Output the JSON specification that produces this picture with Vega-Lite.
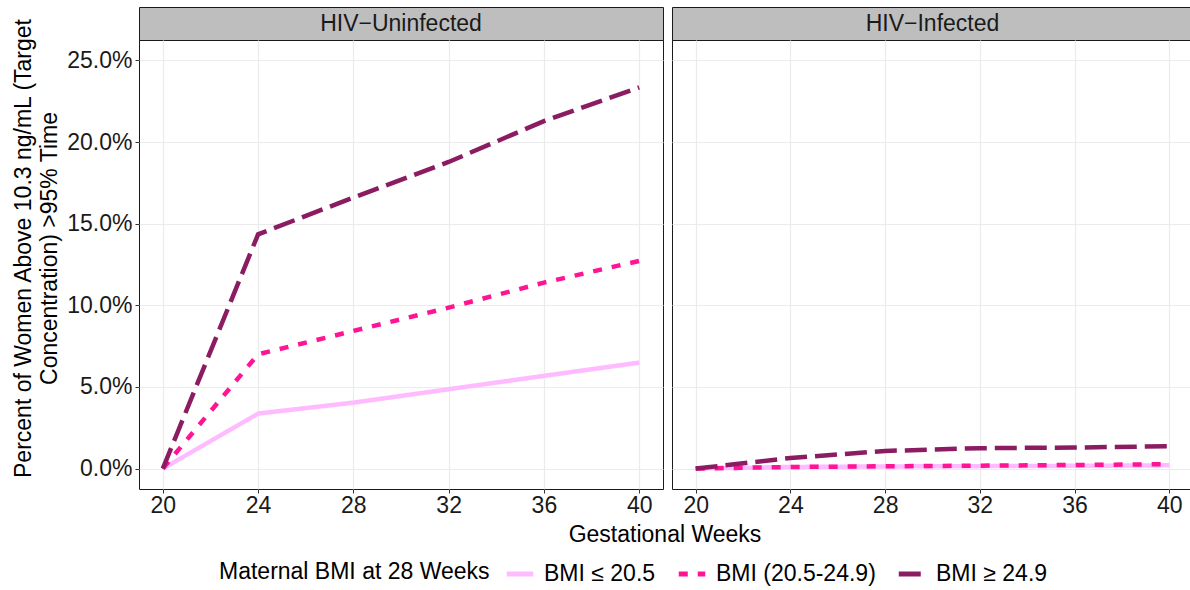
{
  "$schema": "https://vega.github.io/schema/vega-lite/v6.json",
  "padding": {"left": 12, "top": 6, "right": 0, "bottom": 0},
  "background": "white",
  "datasets": {
    "d": [
      {"panel": "HIV−Uninfected", "bmi": "BMI ≤ 20.5", "week": 20, "pct": 0},
      {"panel": "HIV−Uninfected", "bmi": "BMI ≤ 20.5", "week": 24, "pct": 0.0337},
      {"panel": "HIV−Uninfected", "bmi": "BMI ≤ 20.5", "week": 28, "pct": 0.0404},
      {"panel": "HIV−Uninfected", "bmi": "BMI ≤ 20.5", "week": 32, "pct": 0.0486},
      {"panel": "HIV−Uninfected", "bmi": "BMI ≤ 20.5", "week": 36, "pct": 0.0568},
      {"panel": "HIV−Uninfected", "bmi": "BMI ≤ 20.5", "week": 40, "pct": 0.0649},
      {"panel": "HIV−Uninfected", "bmi": "BMI (20.5-24.9)", "week": 20, "pct": 0},
      {"panel": "HIV−Uninfected", "bmi": "BMI (20.5-24.9)", "week": 24, "pct": 0.0700},
      {"panel": "HIV−Uninfected", "bmi": "BMI (20.5-24.9)", "week": 28, "pct": 0.0843},
      {"panel": "HIV−Uninfected", "bmi": "BMI (20.5-24.9)", "week": 32, "pct": 0.0986},
      {"panel": "HIV−Uninfected", "bmi": "BMI (20.5-24.9)", "week": 36, "pct": 0.1139},
      {"panel": "HIV−Uninfected", "bmi": "BMI (20.5-24.9)", "week": 40, "pct": 0.1272},
      {"panel": "HIV−Uninfected", "bmi": "BMI ≥ 24.9", "week": 20, "pct": 0},
      {"panel": "HIV−Uninfected", "bmi": "BMI ≥ 24.9", "week": 24, "pct": 0.1435},
      {"panel": "HIV−Uninfected", "bmi": "BMI ≥ 24.9", "week": 28, "pct": 0.1660},
      {"panel": "HIV−Uninfected", "bmi": "BMI ≥ 24.9", "week": 32, "pct": 0.1878},
      {"panel": "HIV−Uninfected", "bmi": "BMI ≥ 24.9", "week": 36, "pct": 0.2128},
      {"panel": "HIV−Uninfected", "bmi": "BMI ≥ 24.9", "week": 40, "pct": 0.2335},
      {"panel": "HIV−Infected", "bmi": "BMI ≤ 20.5", "week": 20, "pct": 0},
      {"panel": "HIV−Infected", "bmi": "BMI ≤ 20.5", "week": 24, "pct": 0.0010},
      {"panel": "HIV−Infected", "bmi": "BMI ≤ 20.5", "week": 28, "pct": 0.0013},
      {"panel": "HIV−Infected", "bmi": "BMI ≤ 20.5", "week": 32, "pct": 0.0015},
      {"panel": "HIV−Infected", "bmi": "BMI ≤ 20.5", "week": 36, "pct": 0.0017},
      {"panel": "HIV−Infected", "bmi": "BMI ≤ 20.5", "week": 40, "pct": 0.0020},
      {"panel": "HIV−Infected", "bmi": "BMI (20.5-24.9)", "week": 20, "pct": 0},
      {"panel": "HIV−Infected", "bmi": "BMI (20.5-24.9)", "week": 24, "pct": 0.0010},
      {"panel": "HIV−Infected", "bmi": "BMI (20.5-24.9)", "week": 28, "pct": 0.0014},
      {"panel": "HIV−Infected", "bmi": "BMI (20.5-24.9)", "week": 32, "pct": 0.0018},
      {"panel": "HIV−Infected", "bmi": "BMI (20.5-24.9)", "week": 36, "pct": 0.0022},
      {"panel": "HIV−Infected", "bmi": "BMI (20.5-24.9)", "week": 40, "pct": 0.0027},
      {"panel": "HIV−Infected", "bmi": "BMI ≥ 24.9", "week": 20, "pct": 0},
      {"panel": "HIV−Infected", "bmi": "BMI ≥ 24.9", "week": 24, "pct": 0.0065},
      {"panel": "HIV−Infected", "bmi": "BMI ≥ 24.9", "week": 28, "pct": 0.0108},
      {"panel": "HIV−Infected", "bmi": "BMI ≥ 24.9", "week": 32, "pct": 0.0125},
      {"panel": "HIV−Infected", "bmi": "BMI ≥ 24.9", "week": 36, "pct": 0.0129},
      {"panel": "HIV−Infected", "bmi": "BMI ≥ 24.9", "week": 40, "pct": 0.0137}
    ]
  },
  "config": {
    "font": "Liberation Sans",
    "view": {"stroke": "#1a1a1a", "strokeWidth": 1},
    "axis": {
      "gridColor": "#EBEBEB",
      "gridWidth": 1.2,
      "tickColor": "#333333",
      "tickSize": 4,
      "labelColor": "#1a1a1a",
      "labelFontSize": 23,
      "labelPadding": 1,
      "titleFontSize": 23,
      "titleFontWeight": "normal",
      "titleColor": "#000000",
      "domain": false
    },
    "legend": {
      "orient": "none",
      "legendX": 80,
      "legendY": 551,
      "direction": "horizontal",
      "titleOrient": "left",
      "titleBaseline": "middle",
      "titleFontSize": 23,
      "titleFontWeight": "normal",
      "titleColor": "#000000",
      "titlePadding": 14,
      "titleLimit": 500,
      "labelLimit": 400,
      "labelFontSize": 23,
      "labelColor": "#000000",
      "labelOffset": 8,
      "columnPadding": 12,
      "symbolType": "stroke",
      "symbolStrokeWidth": 5,
      "symbolSize": 700
    }
  },
  "spacing": 5,
  "vconcat": [
    {
      "spacing": 7,
      "hconcat": [
        {
          "spacing": 0,
          "bounds": "flush",
          "vconcat": [
            {
              "width": 524,
              "height": 33,
              "data": {"values": [{"panel": "HIV−Uninfected"}]},
              "view": {"fill": "#BEBEBE", "stroke": "#1a1a1a"},
              "mark": {"type": "text", "fontSize": 23, "color": "#1a1a1a"},
              "encoding": {"text": {"field": "panel", "type": "nominal"}}
            },
            {
              "width": 524,
              "height": 449,
              "data": {"name": "d"},
              "transform": [{"filter": "datum.panel == 'HIV−Uninfected'"}],
              "mark": {"type": "line", "strokeWidth": 4.5, "strokeCap": "butt"},
              "encoding": {
                "x": {
                  "field": "week", "type": "quantitative",
                  "scale": {"domain": [19, 41], "nice": false, "zero": false},
                  "axis": {"values": [20, 24, 28, 32, 36, 40], "title": null}
                },
                "y": {
                  "field": "pct", "type": "quantitative",
                  "scale": {"domain": [-0.0125, 0.2625], "nice": false, "zero": false},
                  "axis": {
                    "values": [0, 0.05, 0.1, 0.15, 0.2, 0.25],
                    "format": ".1%",
                    "labelPadding": 3,
                    "title": ["Percent of Women Above 10.3 ng/mL (Target", "Concentration) >95% Time"],
                    "titlePadding": 5,
                    "titleLineHeight": 26,
                    "titleY": 208
                  }
                },
                "color": {
                  "field": "bmi", "type": "nominal", "title": "Maternal BMI at 28 Weeks",
                  "scale": {"domain": ["BMI ≤ 20.5", "BMI (20.5-24.9)", "BMI ≥ 24.9"], "range": ["#FFBBFF", "#FF1493", "#8B1C62"]}
                },
                "strokeDash": {
                  "field": "bmi", "type": "nominal", "title": "Maternal BMI at 28 Weeks",
                  "scale": {"domain": ["BMI ≤ 20.5", "BMI (20.5-24.9)", "BMI ≥ 24.9"], "range": [[1, 0], [9, 10], [22, 8]]}
                }
              }
            }
          ]
        },
        {
          "spacing": 0,
          "bounds": "flush",
          "vconcat": [
            {
              "width": 521,
              "height": 33,
              "data": {"values": [{"panel": "HIV−Infected"}]},
              "view": {"fill": "#BEBEBE", "stroke": "#1a1a1a"},
              "mark": {"type": "text", "fontSize": 23, "color": "#1a1a1a"},
              "encoding": {"text": {"field": "panel", "type": "nominal"}}
            },
            {
              "width": 521,
              "height": 449,
              "data": {"name": "d"},
              "transform": [{"filter": "datum.panel == 'HIV−Infected'"}],
              "mark": {"type": "line", "strokeWidth": 4.5, "strokeCap": "butt"},
              "encoding": {
                "x": {
                  "field": "week", "type": "quantitative",
                  "scale": {"domain": [19, 41], "nice": false, "zero": false},
                  "axis": {"values": [20, 24, 28, 32, 36, 40], "title": null}
                },
                "y": {
                  "field": "pct", "type": "quantitative",
                  "scale": {"domain": [-0.0125, 0.2625], "nice": false, "zero": false},
                  "axis": {"values": [0, 0.05, 0.1, 0.15, 0.2, 0.25], "labels": false, "ticks": false, "title": null}
                },
                "color": {
                  "field": "bmi", "type": "nominal", "title": "Maternal BMI at 28 Weeks",
                  "scale": {"domain": ["BMI ≤ 20.5", "BMI (20.5-24.9)", "BMI ≥ 24.9"], "range": ["#FFBBFF", "#FF1493", "#8B1C62"]}
                },
                "strokeDash": {
                  "field": "bmi", "type": "nominal", "title": "Maternal BMI at 28 Weeks",
                  "scale": {"domain": ["BMI ≤ 20.5", "BMI (20.5-24.9)", "BMI ≥ 24.9"], "range": [[1, 0], [9, 10], [22, 8]]}
                }
              }
            }
          ]
        }
      ]
    },
    {
      "width": 1052,
      "height": 24,
      "data": {"values": [{"label": "Gestational Weeks"}]},
      "view": {"stroke": null},
      "mark": {"type": "text", "fontSize": 23, "color": "#000000"},
      "encoding": {"text": {"field": "label", "type": "nominal"}}
    }
  ]
}
